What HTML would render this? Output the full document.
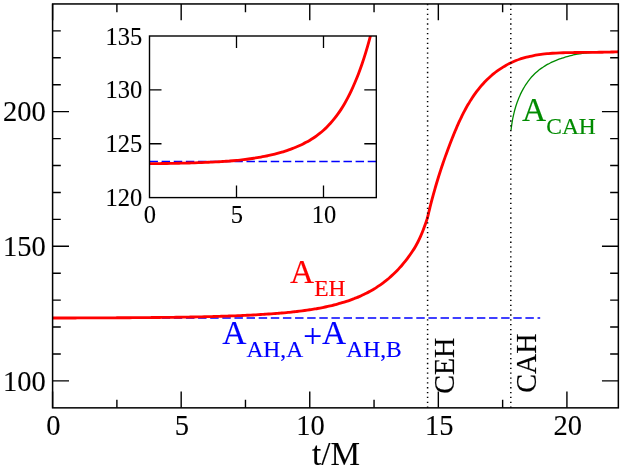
<!DOCTYPE html><html><head><meta charset="utf-8"><style>html,body{margin:0;padding:0;background:#fff}body{width:623px;height:471px;overflow:hidden;position:relative}</style></head><body><svg width="623" height="471" viewBox="0 0 623 471" style="position:absolute;left:0;top:0;will-change:transform">
<rect width="100%" height="100%" fill="#fff"/>
<line x1="52.60" y1="317.90" x2="540.20" y2="317.90" stroke="#00f" stroke-width="1.5" stroke-dasharray="8.45 3.673"/>
<path d="M511.03 130.29 C511.08 129.86 511.22 128.57 511.32 127.71 C511.43 126.85 511.54 125.99 511.67 125.13 C511.79 124.27 511.92 123.41 512.06 122.55 C512.20 121.69 512.35 120.83 512.51 119.97 C512.67 119.11 512.83 118.26 513.01 117.40 C513.18 116.55 513.37 115.70 513.56 114.85 C513.75 114.00 513.96 113.15 514.17 112.30 C514.38 111.46 514.60 110.62 514.83 109.78 C515.06 108.94 515.30 108.10 515.55 107.27 C515.80 106.44 516.06 105.62 516.33 104.79 C516.60 103.97 516.88 103.15 517.17 102.34 C517.46 101.53 517.75 100.72 518.06 99.92 C518.37 99.12 518.69 98.32 519.02 97.53 C519.35 96.74 519.69 95.96 520.05 95.18 C520.40 94.41 520.76 93.64 521.13 92.88 C521.50 92.11 521.89 91.36 522.28 90.61 C522.68 89.87 523.08 89.13 523.50 88.40 C523.92 87.67 524.34 86.94 524.78 86.23 C525.22 85.52 525.67 84.82 526.14 84.12 C526.60 83.43 527.07 82.74 527.56 82.07 C528.04 81.39 528.54 80.73 529.05 80.08 C529.56 79.42 530.08 78.78 530.61 78.15 C531.15 77.52 531.69 76.90 532.25 76.29 C532.81 75.68 533.38 75.09 533.96 74.50 C534.55 73.92 535.14 73.35 535.75 72.79 C536.36 72.23 536.98 71.68 537.61 71.15 C538.25 70.62 538.89 70.10 539.55 69.60 C540.21 69.09 540.88 68.60 541.56 68.12 C542.25 67.64 542.94 67.17 543.64 66.72 C544.35 66.26 545.06 65.82 545.78 65.39 C546.51 64.96 547.24 64.54 547.98 64.14 C548.72 63.73 549.48 63.34 550.23 62.96 C550.99 62.57 551.76 62.20 552.54 61.84 C553.31 61.49 554.09 61.14 554.88 60.80 C555.67 60.47 556.47 60.14 557.27 59.83 C558.07 59.51 558.88 59.21 559.69 58.92 C560.50 58.62 561.32 58.34 562.14 58.07 C562.96 57.80 563.79 57.54 564.62 57.29 C565.45 57.03 566.28 56.79 567.12 56.56 C567.95 56.33 568.79 56.11 569.63 55.89 C570.47 55.68 571.32 55.48 572.16 55.29 C573.01 55.09 573.85 54.91 574.70 54.73 C575.55 54.56 576.40 54.39 577.25 54.23 C578.10 54.07 578.96 53.93 579.81 53.78 C580.67 53.64 581.52 53.51 582.38 53.39 C583.23 53.26 584.09 53.15 584.94 53.04 C585.80 52.93 586.66 52.83 587.52 52.74 C588.37 52.64 589.23 52.56 590.09 52.48 C590.94 52.40 591.80 52.33 592.66 52.27 C593.51 52.20 594.37 52.15 595.22 52.10 C596.08 52.05 596.93 52.00 597.78 51.97 C598.64 51.93 599.49 51.90 600.34 51.88 C601.19 51.85 602.03 51.83 602.88 51.82 C603.73 51.81 604.57 51.80 605.41 51.80 C606.26 51.80 607.10 51.81 607.93 51.82 C608.77 51.83 609.61 51.85 610.44 51.87 C611.27 51.89 612.10 51.91 612.93 51.94 C613.75 51.98 614.58 52.01 615.40 52.05 C616.22 52.09 617.44 52.16 617.85 52.19" fill="none" stroke="#008b00" stroke-width="1.3"/>
<path d="M52.60 318.00 C53.03 318.00 54.31 317.99 55.17 317.99 C56.03 317.99 56.89 317.99 57.74 317.99 C58.60 317.99 59.46 317.99 60.31 317.98 C61.17 317.98 62.03 317.98 62.89 317.98 C63.74 317.98 64.60 317.97 65.46 317.97 C66.32 317.97 67.17 317.97 68.03 317.97 C68.89 317.96 69.74 317.96 70.60 317.96 C71.46 317.96 72.32 317.96 73.17 317.95 C74.03 317.95 74.89 317.95 75.74 317.95 C76.60 317.95 77.46 317.94 78.32 317.94 C79.17 317.94 80.03 317.94 80.89 317.93 C81.74 317.93 82.60 317.93 83.46 317.93 C84.32 317.92 85.17 317.92 86.03 317.92 C86.89 317.92 87.75 317.91 88.60 317.91 C89.46 317.91 90.32 317.91 91.17 317.90 C92.03 317.90 92.89 317.90 93.75 317.89 C94.60 317.89 95.46 317.89 96.32 317.88 C97.17 317.88 98.03 317.88 98.89 317.87 C99.75 317.87 100.60 317.87 101.46 317.86 C102.32 317.86 103.17 317.86 104.03 317.85 C104.89 317.85 105.75 317.85 106.60 317.84 C107.46 317.84 108.32 317.84 109.18 317.83 C110.03 317.83 110.89 317.82 111.75 317.82 C112.60 317.82 113.46 317.81 114.32 317.81 C115.18 317.80 116.03 317.80 116.89 317.79 C117.75 317.79 118.60 317.78 119.46 317.78 C120.32 317.78 121.18 317.77 122.03 317.77 C122.89 317.76 123.75 317.76 124.60 317.75 C125.46 317.75 126.32 317.74 127.18 317.74 C128.03 317.73 128.89 317.72 129.75 317.72 C130.60 317.71 131.46 317.71 132.32 317.70 C133.18 317.70 134.03 317.69 134.89 317.68 C135.75 317.68 136.61 317.67 137.46 317.67 C138.32 317.66 139.18 317.65 140.03 317.65 C140.89 317.64 141.75 317.63 142.61 317.63 C143.46 317.62 144.32 317.61 145.18 317.60 C146.03 317.60 146.89 317.59 147.75 317.58 C148.61 317.57 149.46 317.57 150.32 317.56 C151.18 317.55 152.03 317.54 152.89 317.53 C153.75 317.53 154.61 317.52 155.46 317.51 C156.32 317.50 157.18 317.49 158.04 317.48 C158.89 317.47 159.75 317.46 160.61 317.45 C161.46 317.45 162.32 317.44 163.18 317.43 C164.04 317.42 164.89 317.41 165.75 317.40 C166.61 317.39 167.46 317.37 168.32 317.36 C169.18 317.35 170.04 317.34 170.89 317.33 C171.75 317.32 172.61 317.31 173.46 317.30 C174.32 317.28 175.18 317.27 176.04 317.26 C176.89 317.25 177.75 317.24 178.61 317.22 C179.47 317.21 180.32 317.20 181.18 317.18 C182.04 317.17 182.89 317.16 183.75 317.14 C184.61 317.13 185.47 317.11 186.32 317.10 C187.18 317.08 188.04 317.07 188.89 317.05 C189.75 317.04 190.61 317.02 191.47 317.01 C192.32 316.99 193.18 316.98 194.04 316.96 C194.89 316.94 195.75 316.92 196.61 316.91 C197.47 316.89 198.32 316.87 199.18 316.85 C200.04 316.84 200.90 316.82 201.75 316.80 C202.61 316.78 203.47 316.76 204.32 316.74 C205.18 316.72 206.04 316.70 206.90 316.68 C207.75 316.66 208.61 316.64 209.47 316.61 C210.32 316.59 211.18 316.57 212.04 316.55 C212.90 316.53 213.75 316.50 214.61 316.48 C215.47 316.45 216.32 316.43 217.18 316.41 C218.04 316.38 218.90 316.36 219.75 316.33 C220.61 316.30 221.47 316.28 222.33 316.25 C223.18 316.22 224.04 316.20 224.90 316.17 C225.75 316.14 226.61 316.11 227.47 316.08 C228.33 316.05 229.18 316.02 230.04 315.99 C230.90 315.96 231.75 315.93 232.61 315.90 C233.47 315.86 234.33 315.83 235.18 315.80 C236.04 315.76 236.90 315.73 237.75 315.69 C238.61 315.66 239.47 315.62 240.33 315.59 C241.18 315.55 242.04 315.51 242.90 315.47 C243.75 315.43 244.61 315.40 245.47 315.35 C246.33 315.31 247.18 315.27 248.04 315.23 C248.90 315.19 249.76 315.15 250.61 315.10 C251.47 315.06 252.33 315.01 253.18 314.97 C254.04 314.92 254.90 314.88 255.76 314.83 C256.61 314.78 257.47 314.73 258.33 314.68 C259.18 314.63 260.04 314.58 260.90 314.53 C261.76 314.48 262.61 314.42 263.47 314.37 C264.33 314.31 265.18 314.26 266.04 314.20 C266.90 314.14 267.76 314.09 268.61 314.03 C269.47 313.97 270.33 313.91 271.19 313.84 C272.04 313.78 272.90 313.72 273.76 313.65 C274.61 313.59 275.47 313.52 276.33 313.45 C277.19 313.38 278.04 313.31 278.90 313.24 C279.76 313.17 280.61 313.10 281.47 313.03 C282.33 312.95 283.19 312.88 284.04 312.80 C284.90 312.72 285.76 312.64 286.61 312.56 C287.47 312.48 288.33 312.39 289.19 312.31 C290.04 312.22 290.90 312.13 291.76 312.04 C292.62 311.95 293.47 311.86 294.33 311.77 C295.19 311.67 296.04 311.57 296.90 311.47 C297.76 311.37 298.62 311.27 299.47 311.16 C300.33 311.06 301.19 310.95 302.04 310.84 C302.90 310.73 303.76 310.62 304.62 310.50 C305.47 310.38 306.33 310.26 307.19 310.14 C308.04 310.02 308.90 309.89 309.76 309.76 C310.62 309.63 311.47 309.50 312.33 309.36 C313.19 309.22 314.05 309.08 314.90 308.94 C315.76 308.79 316.62 308.65 317.47 308.49 C318.33 308.34 319.19 308.19 320.05 308.03 C320.90 307.87 321.76 307.70 322.62 307.53 C323.47 307.36 324.33 307.19 325.19 307.01 C326.05 306.83 326.90 306.65 327.76 306.46 C328.62 306.27 329.47 306.08 330.33 305.88 C331.19 305.68 332.05 305.48 332.90 305.26 C333.76 305.05 334.62 304.84 335.48 304.62 C336.33 304.39 337.19 304.17 338.05 303.93 C338.90 303.70 339.76 303.46 340.62 303.21 C341.48 302.96 342.33 302.71 343.19 302.44 C344.05 302.18 344.90 301.91 345.76 301.64 C346.62 301.36 347.48 301.07 348.33 300.78 C349.19 300.49 350.05 300.19 350.90 299.88 C351.76 299.57 352.62 299.25 353.48 298.92 C354.33 298.59 355.19 298.26 356.05 297.91 C356.90 297.56 357.76 297.21 358.62 296.84 C359.48 296.47 360.33 296.09 361.19 295.70 C362.05 295.31 362.91 294.91 363.76 294.50 C364.62 294.09 365.48 293.67 366.33 293.23 C367.19 292.79 368.05 292.34 368.91 291.88 C369.76 291.42 370.62 290.94 371.48 290.45 C372.33 289.96 373.19 289.46 374.05 288.94 C374.91 288.42 375.76 287.88 376.62 287.33 C377.48 286.78 378.33 286.22 379.19 285.63 C380.05 285.05 380.91 284.44 381.76 283.82 C382.62 283.20 383.48 282.57 384.34 281.91 C385.19 281.25 386.05 280.57 386.91 279.87 C387.76 279.17 388.62 278.46 389.48 277.71 C390.34 276.97 391.19 276.21 392.05 275.42 C392.91 274.63 393.76 273.82 394.62 272.98 C395.48 272.15 396.34 271.29 397.19 270.40 C398.05 269.51 398.91 268.59 399.76 267.65 C400.62 266.70 401.48 265.73 402.34 264.72 C403.19 263.72 404.05 262.68 404.91 261.61 C405.77 260.55 406.62 259.45 407.48 258.31 C408.34 257.17 409.19 256.00 410.05 254.79 C410.91 253.59 411.77 252.36 412.62 251.05 C413.48 249.74 414.34 248.40 415.19 246.93 C416.05 245.46 416.91 243.91 417.77 242.23 C418.62 240.56 419.48 238.79 420.34 236.88 C421.19 234.96 422.05 232.95 422.91 230.77 C423.77 228.59 424.79 225.74 425.48 223.80 C426.17 221.86 426.77 219.93 427.02 219.15 L427.02 219.15 C427.19 218.57 427.70 216.82 428.01 215.63 C428.32 214.43 428.58 213.20 428.87 211.99 C429.16 210.78 429.45 209.57 429.74 208.36 C430.04 207.16 430.34 205.96 430.64 204.76 C430.94 203.56 431.25 202.37 431.56 201.18 C431.87 199.99 432.19 198.80 432.50 197.61 C432.82 196.43 433.14 195.24 433.47 194.06 C433.79 192.88 434.12 191.70 434.46 190.52 C434.79 189.35 435.13 188.17 435.47 187.00 C435.81 185.83 436.15 184.66 436.50 183.49 C436.85 182.32 437.20 181.15 437.56 179.98 C437.92 178.82 438.28 177.65 438.64 176.49 C439.01 175.33 439.38 174.16 439.75 173.00 C440.12 171.84 440.50 170.68 440.88 169.52 C441.26 168.36 441.65 167.21 442.03 166.05 C442.42 164.89 442.82 163.73 443.22 162.58 C443.61 161.42 444.02 160.26 444.42 159.11 C444.83 157.95 445.24 156.80 445.65 155.64 C446.07 154.48 446.49 153.33 446.91 152.17 C447.33 151.02 447.76 149.86 448.19 148.70 C448.63 147.54 449.06 146.39 449.50 145.23 C449.94 144.07 450.39 142.91 450.84 141.75 C451.29 140.59 451.74 139.43 452.20 138.27 C452.66 137.11 453.13 135.95 453.60 134.79 C454.07 133.63 454.55 132.47 455.03 131.31 C455.51 130.15 456.00 128.99 456.50 127.84 C456.99 126.69 457.50 125.53 458.01 124.39 C458.52 123.24 459.04 122.10 459.57 120.96 C460.09 119.82 460.63 118.68 461.17 117.55 C461.72 116.42 462.27 115.30 462.84 114.18 C463.40 113.06 463.98 111.95 464.56 110.85 C465.14 109.74 465.74 108.64 466.35 107.55 C466.95 106.47 467.57 105.38 468.20 104.31 C468.83 103.24 469.47 102.18 470.12 101.12 C470.78 100.07 471.44 99.03 472.12 97.99 C472.80 96.96 473.49 95.94 474.20 94.93 C474.91 93.92 475.63 92.92 476.36 91.94 C477.10 90.95 477.84 89.98 478.61 89.02 C479.37 88.06 480.15 87.12 480.95 86.19 C481.75 85.26 482.56 84.34 483.38 83.44 C484.21 82.54 485.06 81.65 485.92 80.78 C486.78 79.91 487.66 79.06 488.55 78.22 C489.44 77.39 490.35 76.57 491.27 75.77 C492.20 74.97 493.13 74.19 494.09 73.43 C495.04 72.66 496.01 71.92 496.99 71.20 C497.97 70.47 498.96 69.77 499.97 69.08 C500.98 68.40 502.00 67.74 503.04 67.10 C504.07 66.46 505.12 65.84 506.18 65.25 C507.24 64.65 508.32 64.08 509.40 63.53 C510.49 62.98 511.58 62.45 512.69 61.95 C513.80 61.45 514.92 60.98 516.05 60.53 C517.18 60.08 518.33 59.65 519.48 59.25 C520.63 58.85 521.79 58.48 522.96 58.12 C524.13 57.77 525.32 57.44 526.50 57.13 C527.69 56.82 528.89 56.54 530.09 56.27 C531.29 56.00 532.50 55.76 533.71 55.53 C534.93 55.30 536.15 55.09 537.37 54.90 C538.60 54.70 539.83 54.53 541.06 54.37 C542.29 54.20 543.53 54.06 544.77 53.92 C546.00 53.79 547.25 53.67 548.49 53.56 C549.73 53.46 550.97 53.36 552.22 53.28 C553.46 53.19 554.71 53.12 555.95 53.05 C557.20 52.98 558.44 52.93 559.69 52.88 C560.94 52.83 562.18 52.78 563.43 52.75 C564.68 52.71 565.92 52.68 567.17 52.65 C568.41 52.62 569.66 52.60 570.90 52.58 C572.14 52.56 573.39 52.54 574.63 52.52 C575.87 52.50 577.11 52.49 578.35 52.47 C579.59 52.46 580.83 52.45 582.06 52.44 C583.30 52.42 584.53 52.41 585.77 52.40 C587.00 52.39 588.24 52.38 589.47 52.37 C590.70 52.36 591.93 52.35 593.17 52.34 C594.40 52.33 595.63 52.31 596.85 52.30 C598.08 52.28 599.31 52.27 600.54 52.25 C601.77 52.23 602.99 52.22 604.22 52.19 C605.44 52.17 606.67 52.15 607.89 52.12 C609.11 52.09 610.34 52.06 611.56 52.03 C612.78 51.99 614.00 51.96 615.22 51.91 C616.45 51.87 618.27 51.80 618.88 51.78" fill="none" stroke="#f00" stroke-width="2.85" stroke-linejoin="round"/>
<line x1="427.60" y1="3.95" x2="427.60" y2="407.85" stroke="#000" stroke-width="1.5" stroke-dasharray="1.3 3.55"/>
<line x1="510.80" y1="3.95" x2="510.80" y2="407.85" stroke="#000" stroke-width="1.5" stroke-dasharray="1.3 3.55"/>
<path d="M52.60 407.85 v-16.4 M52.60 3.95 v16.4 M181.18 407.85 v-16.4 M181.18 3.95 v16.4 M309.76 407.85 v-16.4 M309.76 3.95 v16.4 M438.34 407.85 v-16.4 M438.34 3.95 v16.4 M566.92 407.85 v-16.4 M566.92 3.95 v16.4 M116.89 407.85 v-8.2 M116.89 3.95 v8.2 M245.47 407.85 v-8.2 M245.47 3.95 v8.2 M374.05 407.85 v-8.2 M374.05 3.95 v8.2 M502.63 407.85 v-8.2 M502.63 3.95 v8.2 M52.60 380.92 h16.4 M618.35 380.92 h-16.4 M52.60 354.00 h8.2 M618.35 354.00 h-8.2 M52.60 327.07 h8.2 M618.35 327.07 h-8.2 M52.60 300.14 h8.2 M618.35 300.14 h-8.2 M52.60 273.22 h8.2 M618.35 273.22 h-8.2 M52.60 246.29 h16.4 M618.35 246.29 h-16.4 M52.60 219.36 h8.2 M618.35 219.36 h-8.2 M52.60 192.44 h8.2 M618.35 192.44 h-8.2 M52.60 165.51 h8.2 M618.35 165.51 h-8.2 M52.60 138.58 h8.2 M618.35 138.58 h-8.2 M52.60 111.66 h16.4 M618.35 111.66 h-16.4 M52.60 84.73 h8.2 M618.35 84.73 h-8.2 M52.60 57.80 h8.2 M618.35 57.80 h-8.2 M52.60 30.88 h8.2 M618.35 30.88 h-8.2" stroke="#000" stroke-width="1.4" fill="none"/>
<rect x="52.60" y="3.95" width="565.75" height="403.90" fill="none" stroke="#000" stroke-width="1.5"/>
<clipPath id="ic"><rect x="149.50" y="36.00" width="226.80" height="161.60"/></clipPath>
<line x1="149.50" y1="161.50" x2="376.30" y2="161.50" stroke="#00f" stroke-width="1.4" stroke-dasharray="8.45 3.673"/>
<path d="M149.50 163.69 C150.08 163.69 151.82 163.67 152.98 163.65 C154.14 163.64 155.30 163.63 156.46 163.61 C157.62 163.60 158.78 163.58 159.94 163.57 C161.10 163.55 162.26 163.54 163.42 163.52 C164.58 163.50 165.74 163.49 166.90 163.47 C168.06 163.45 169.22 163.43 170.38 163.41 C171.54 163.39 172.70 163.37 173.86 163.35 C175.02 163.32 176.18 163.30 177.34 163.28 C178.50 163.25 179.66 163.23 180.82 163.20 C181.98 163.17 183.14 163.15 184.30 163.12 C185.46 163.09 186.62 163.06 187.78 163.03 C188.94 163.00 190.10 162.96 191.26 162.93 C192.42 162.89 193.58 162.86 194.74 162.82 C195.90 162.78 197.06 162.74 198.22 162.70 C199.38 162.66 200.54 162.62 201.70 162.58 C202.86 162.53 204.02 162.48 205.18 162.44 C206.34 162.39 207.50 162.34 208.66 162.28 C209.82 162.23 210.98 162.17 212.14 162.12 C213.30 162.06 214.46 162.00 215.62 161.93 C216.78 161.87 217.94 161.80 219.10 161.74 C220.26 161.67 221.42 161.59 222.58 161.52 C223.74 161.44 224.90 161.36 226.06 161.28 C227.22 161.20 228.38 161.11 229.54 161.02 C230.70 160.93 231.86 160.84 233.02 160.74 C234.18 160.64 235.34 160.54 236.50 160.43 C237.66 160.32 238.82 160.19 239.98 160.06 C241.14 159.93 242.30 159.80 243.46 159.66 C244.62 159.52 245.78 159.38 246.94 159.23 C248.10 159.08 249.26 158.92 250.42 158.76 C251.58 158.59 252.74 158.42 253.90 158.24 C255.06 158.07 256.22 157.88 257.38 157.69 C258.54 157.50 259.70 157.29 260.86 157.08 C262.02 156.88 263.18 156.66 264.34 156.43 C265.50 156.20 266.66 155.96 267.82 155.72 C268.98 155.47 270.14 155.21 271.30 154.94 C272.46 154.67 273.62 154.39 274.78 154.10 C275.94 153.81 277.10 153.50 278.26 153.18 C279.42 152.86 280.58 152.53 281.74 152.18 C282.90 151.84 284.06 151.47 285.22 151.10 C286.38 150.72 287.54 150.32 288.70 149.91 C289.86 149.51 291.02 149.09 292.18 148.66 C293.34 148.22 294.50 147.76 295.66 147.29 C296.82 146.81 297.98 146.31 299.14 145.79 C300.30 145.27 301.46 144.73 302.62 144.16 C303.78 143.59 304.94 143.00 306.10 142.37 C307.26 141.75 308.42 141.10 309.58 140.41 C310.74 139.72 311.90 139.00 313.06 138.24 C314.22 137.47 315.38 136.68 316.54 135.83 C317.70 134.98 318.86 134.10 320.02 133.16 C321.18 132.22 322.34 131.24 323.50 130.20 C324.66 129.16 325.82 128.07 326.98 126.91 C328.14 125.76 329.30 124.55 330.46 123.26 C331.62 121.97 332.78 120.63 333.94 119.19 C335.10 117.76 336.26 116.26 337.42 114.66 C338.58 113.06 339.74 111.39 340.90 109.61 C342.06 107.83 343.22 105.96 344.38 103.97 C345.54 101.98 346.70 99.90 347.86 97.67 C349.02 95.45 350.18 93.12 351.34 90.63 C352.50 88.14 353.64 85.53 354.82 82.75 C356.00 79.96 357.22 77.04 358.42 73.92 C359.63 70.79 360.83 67.52 362.03 64.01 C363.23 60.51 364.43 56.83 365.63 52.89 C366.84 48.96 368.06 44.82 369.24 40.40 C370.42 35.97 371.56 31.32 372.72 26.34 C373.88 21.37 375.04 16.13 376.20 10.52 C377.36 4.91 379.10 -4.34 379.68 -7.31" fill="none" stroke="#f00" stroke-width="2.85" clip-path="url(#ic)"/>
<path d="M236.50 197.60 v-12 M236.50 36.00 v12 M323.50 197.60 v-12 M323.50 36.00 v12 M149.50 143.73 h12 M376.30 143.73 h-12 M149.50 89.87 h12 M376.30 89.87 h-12" stroke="#000" stroke-width="1.3" fill="none"/>
<rect x="149.50" y="36.00" width="226.80" height="161.60" fill="none" stroke="#000" stroke-width="1.4"/>
<text x="45.80" y="390.62" font-size="28.50" text-anchor="end" fill="#000" stroke="#000" stroke-width="0.1" font-family="Liberation Serif, serif" >100</text>
<text x="45.80" y="255.99" font-size="28.50" text-anchor="end" fill="#000" stroke="#000" stroke-width="0.1" font-family="Liberation Serif, serif" >150</text>
<text x="45.80" y="121.36" font-size="28.50" text-anchor="end" fill="#000" stroke="#000" stroke-width="0.1" font-family="Liberation Serif, serif" >200</text>
<text x="53.40" y="435.30" font-size="28.50" text-anchor="middle" fill="#000" stroke="#000" stroke-width="0.1" font-family="Liberation Serif, serif" >0</text>
<text x="181.98" y="435.30" font-size="28.50" text-anchor="middle" fill="#000" stroke="#000" stroke-width="0.1" font-family="Liberation Serif, serif" >5</text>
<text x="310.56" y="435.30" font-size="28.50" text-anchor="middle" fill="#000" stroke="#000" stroke-width="0.1" font-family="Liberation Serif, serif" >10</text>
<text x="439.14" y="435.30" font-size="28.50" text-anchor="middle" fill="#000" stroke="#000" stroke-width="0.1" font-family="Liberation Serif, serif" >15</text>
<text x="567.72" y="435.30" font-size="28.50" text-anchor="middle" fill="#000" stroke="#000" stroke-width="0.1" font-family="Liberation Serif, serif" >20</text>
<text x="336.00" y="465.30" font-size="33.20" text-anchor="middle" fill="#000" stroke="#000" stroke-width="0.1" font-family="Liberation Serif, serif" >t/M</text>
<text x="142.20" y="206.20" font-size="24.50" text-anchor="end" fill="#000" stroke="#000" stroke-width="0.1" font-family="Liberation Serif, serif" >120</text>
<text x="142.20" y="152.33" font-size="24.50" text-anchor="end" fill="#000" stroke="#000" stroke-width="0.1" font-family="Liberation Serif, serif" >125</text>
<text x="142.20" y="98.47" font-size="24.50" text-anchor="end" fill="#000" stroke="#000" stroke-width="0.1" font-family="Liberation Serif, serif" >130</text>
<text x="142.20" y="44.60" font-size="24.50" text-anchor="end" fill="#000" stroke="#000" stroke-width="0.1" font-family="Liberation Serif, serif" >135</text>
<text x="149.90" y="222.70" font-size="24.50" text-anchor="middle" fill="#000" stroke="#000" stroke-width="0.1" font-family="Liberation Serif, serif" >0</text>
<text x="236.90" y="222.70" font-size="24.50" text-anchor="middle" fill="#000" stroke="#000" stroke-width="0.1" font-family="Liberation Serif, serif" >5</text>
<text x="323.90" y="222.70" font-size="24.50" text-anchor="middle" fill="#000" stroke="#000" stroke-width="0.1" font-family="Liberation Serif, serif" >10</text>
<text x="290.00" y="282.50" fill="#f00" stroke="#f00" stroke-width="0.15" font-family="Liberation Serif, serif"><tspan font-size="33.50" dy="0.00">A</tspan><tspan font-size="23.50" dy="13.00">EH</tspan></text>
<text x="522.00" y="120.80" fill="#008b00" stroke="#008b00" stroke-width="0.15" font-family="Liberation Serif, serif"><tspan font-size="33.50" dy="0.00">A</tspan><tspan font-size="23.50" dy="13.20">CAH</tspan></text>
<text x="222.20" y="343.90" fill="#00f" stroke="#00f" stroke-width="0.15" font-family="Liberation Serif, serif"><tspan font-size="33.50" dy="0.00">A</tspan><tspan font-size="23.50" dy="13.30">AH,A</tspan><tspan font-size="33.50" dy="-10.10">+</tspan><tspan font-size="33.50" dy="-3.20">A</tspan><tspan font-size="23.50" dy="13.30">AH,B</tspan></text>
<text transform="translate(453.8 393.8) rotate(-90) scale(1,1.05)" font-size="28.1" stroke="#000" stroke-width="0.15" font-family="Liberation Serif, serif">CEH</text>
<text transform="translate(535.7 392.8) rotate(-90) scale(1,1.05)" font-size="28.1" stroke="#000" stroke-width="0.15" font-family="Liberation Serif, serif">CAH</text>
</svg></body></html>
